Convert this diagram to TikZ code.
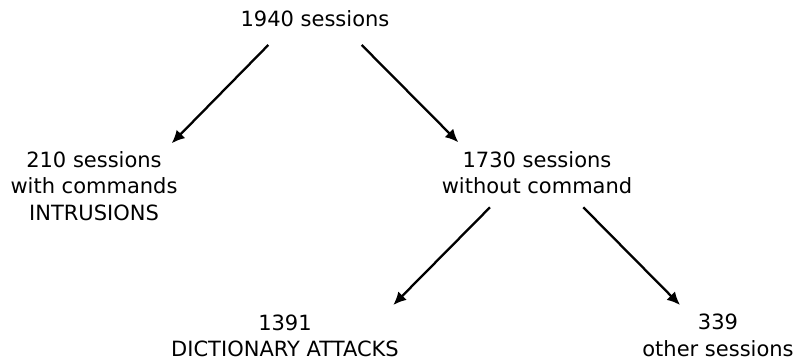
\documentclass[tikz,border=0pt]{standalone}
\usepackage{fontspec}
\setmainfont{DejaVu Sans}
\usetikzlibrary{arrows.meta}

\begin{document}
\begin{tikzpicture}[x=1pt,y=1pt,
arr/.style={line width=2.3pt,-{Latex[length=13pt,width=12pt]}}]
\tikzstyle{every node}=[inner sep=0pt,anchor=base,align=center,font=\fontsize{21}{26.5}\selectfont]
\useasboundingbox (0,0) rectangle (798,-361);

\node (root) at (315,-26.7) {1940 sessions};
\node (intr) at (94,-220.3) {210 sessions\\with commands\\INTRUSIONS};
\node (nocmd) at (537,-193.8) {1730 sessions\\without command};
\node (dict) at (285,-356.7) {1391\\DICTIONARY ATTACKS};
\node (other) at (718,-356) {339\\other sessions};

\draw[arr] ([xshift=-46.7pt,yshift=-18.3pt]root.base) -- ([xshift=77.7pt,yshift=77pt]intr.base);
\draw[arr] ([xshift=46.7pt,yshift=-18.3pt]root.base) -- ([xshift=-78.7pt,yshift=51.5pt]nocmd.base);
\draw[arr] ([xshift=-47pt,yshift=-13.5pt]nocmd.base) -- ([xshift=108.3pt,yshift=51.7pt]dict.base);
\draw[arr] ([xshift=46.3pt,yshift=-13.5pt]nocmd.base) -- ([xshift=-38pt,yshift=51pt]other.base);
\end{tikzpicture}
\end{document}
